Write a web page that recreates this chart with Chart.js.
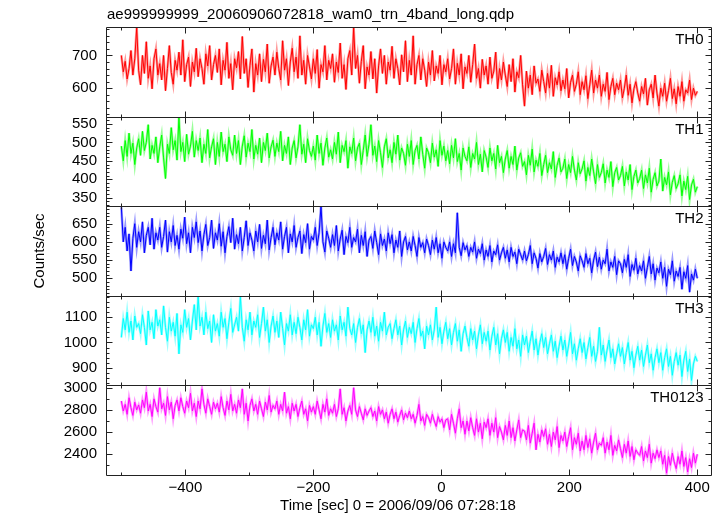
<!DOCTYPE html>
<html>
<head>
<meta charset="utf-8">
<script src="https://cdn.jsdelivr.net/npm/chart.js@4.4.0/dist/chart.umd.min.js"></script>
<style>
  html, body { margin: 0; padding: 0; background: #fff; }
</style>
</head>
<body>
<canvas id="lcChart" width="724" height="516"></canvas>
<script>
// WAM light curve, 4 energy bands + sum — qdp style stacked panels
(function () {
    'use strict';

    var plotTitle = 'ae999999999_20060906072818_wam0_trn_4band_long.qdp';
    var xTitle = 'Time [sec] 0 = 2006/09/06 07:28:18';
    var yTitle = 'Counts/sec';

    // time bins: first bin and bin width in seconds (one row = 30 s)
    var timeStart = -500;
    var timeStep = 3;

    var th0 = [
        700, 650, 682, 628, 660, 715, 640, 690, 785, 655,
        610, 700, 645, 742, 630, 668, 598, 690, 720, 640,
        675, 625, 700, 592, 660, 730, 648, 612, 685, 655,
        710, 640, 748, 620, 672, 695, 605, 680, 650, 722,
        635, 690, 660, 612, 705, 668, 730, 625, 672, 700,
        648, 720, 610, 685, 655, 740, 630, 675, 595, 690,
        662, 712, 628, 758, 645, 690, 602, 670, 720, 588,
        675, 640, 705, 620, 688, 650, 735, 615, 668, 695,
        640, 710, 660, 625, 745, 655, 690, 608, 680, 722,
        650, 695, 630, 760, 640, 685, 612, 700, 665, 628,
        690, 645, 718, 600, 672, 650, 730, 625, 685, 660,
        705, 618, 680, 648, 738, 630, 672, 596, 690, 715,
        640, 785, 660, 700, 615, 682, 730, 598, 665, 640,
        712, 628, 690, 585, 668, 720, 645, 700, 612, 680,
        655, 728, 630, 690, 660, 610, 702, 650, 745, 620,
        685, 640, 760, 612, 672, 700, 625, 690, 655, 605,
        680, 640, 715, 622, 668, 645, 700, 610, 672, 650,
        690, 628, 660, 720, 612, 676, 640, 705, 598, 665,
        645, 700, 618, 672, 735, 630, 660, 600, 688, 640,
        668, 612, 695, 630, 652, 710, 598, 660, 625, 680,
        640, 605, 672, 620, 690, 588, 650, 632, 700, 610,
        545, 652, 600, 640, 580, 668, 615, 628, 590, 655,
        620, 585, 645, 600, 670, 575, 632, 610, 650, 592,
        625, 598, 660, 570, 618, 640, 590, 612, 650, 580,
        620, 595, 638, 568, 610, 655, 585, 625, 600, 640,
        575, 612, 590, 648, 565, 605, 630, 580, 615, 595,
        625, 570, 600, 640, 578, 612, 555, 598, 620, 585,
        560, 605, 582, 630, 548, 595, 612, 570, 640, 585,
        545, 600, 575, 615, 560, 592, 630, 568, 598, 552,
        605, 575, 620, 560, 595, 585, 625, 565, 600, 578,
        590
    ];
    var th1 = [
        490, 450, 505, 462, 525, 470, 498, 440, 485, 510,
        465, 530, 478, 500, 548, 455, 492, 470, 515, 445,
        488, 520, 458, 402, 495, 470, 540, 480, 505, 452,
        568, 475, 500, 448, 522, 468, 490, 530, 460, 505,
        478, 512, 445, 495, 470, 535, 458, 488, 510, 440,
        500, 462, 528, 475, 495, 448, 515, 480, 465, 520,
        470, 505, 440, 490, 518, 460, 498, 475, 535, 455,
        492, 468, 512, 445, 500, 478, 525, 458, 488, 506,
        462, 498, 475, 530, 450, 492, 470, 515, 440, 485,
        505, 458, 488, 548, 468, 495, 445, 510, 478, 462,
        490, 452, 520, 470, 498, 438, 485, 512, 460, 480,
        455, 500, 468, 528, 445, 492, 475, 505, 430, 488,
        470, 512, 450, 485, 498, 440, 478, 520, 462, 495,
        548, 465, 490, 448, 505, 472, 432, 488, 510, 458,
        480, 445, 500, 468, 520, 452, 485, 470, 438, 495,
        462, 505, 440, 478, 492, 455, 515, 468, 430, 485,
        472, 445, 498, 460, 480, 435, 505, 465, 490, 450,
        478, 442, 492, 458, 510, 448, 470, 425, 485, 462,
        450, 488, 432, 470, 455, 500, 440, 468, 420, 478,
        460, 432, 485, 450, 470, 428, 492, 445, 462, 418,
        455, 478, 430, 462, 440, 490, 425, 458, 472, 435,
        448, 412, 465, 438, 482, 420, 452, 435, 470, 410,
        440, 465, 418, 445, 428, 475, 405, 438, 458, 420,
        430, 455, 402, 440, 418, 462, 425, 398, 445, 415,
        428, 450, 395, 432, 410, 455, 420, 388, 440, 405,
        418, 442, 390, 425, 405, 448, 380, 418, 432, 398,
        410, 435, 382, 420, 398, 440, 372, 408, 425, 390,
        402, 425, 375, 412, 390, 430, 365, 400, 418, 382,
        395, 455, 368, 405, 385, 420, 358, 392, 410, 375,
        388, 412, 355, 395, 372, 408, 345, 385, 400, 365,
        380
    ];
    var th2 = [
        695, 600, 640, 575, 622, 520, 610, 650, 585, 628,
        600, 655, 570, 618, 640, 592, 665, 580, 625, 605,
        640, 585, 615, 660, 572, 628, 600, 645, 590, 618,
        580, 635, 610, 668, 595, 625, 570, 640, 612, 655,
        598, 630, 575, 620, 648, 590, 612, 660, 582, 625,
        605, 650, 588, 628, 570, 615, 642, 598, 665, 580,
        620, 595, 640, 575, 612, 658, 590, 625, 605, 575,
        630, 600, 648, 582, 618, 595, 660, 578, 612, 640,
        592, 625, 605, 655, 580, 615, 640, 570, 622, 600,
        645, 585, 612, 630, 568, 620, 598, 650, 580, 615,
        605, 640, 590, 625, 698, 600, 572, 630, 610, 585,
        620, 590, 645, 575, 608, 632, 565, 615, 598, 640,
        585, 612, 600, 635, 570, 618, 590, 628, 560, 605,
        615, 582, 630, 598, 565, 622, 590, 608, 575, 625,
        595, 620, 570, 605, 585, 630, 560, 600, 615, 578,
        600, 575, 615, 590, 560, 612, 585, 598, 570, 608,
        590, 565, 605, 580, 612, 570, 595, 555, 600, 585,
        575, 600, 560, 595, 570, 680, 585, 562, 598, 578,
        590, 560, 585, 572, 600, 555, 580, 568, 595, 550,
        578, 560, 590, 545, 575, 565, 592, 550, 570, 585,
        555, 578, 545, 585, 560, 572, 540, 580, 565, 550,
        575, 548, 565, 590, 540, 570, 555, 528, 568, 545,
        560, 582, 538, 565, 550, 575, 530, 558, 545, 570,
        540, 565, 525, 555, 580, 535, 560, 545, 520, 562,
        548, 530, 568, 540, 555, 515, 550, 572, 532, 558,
        525, 550, 540, 580, 520, 545, 530, 560, 510, 548,
        540, 515, 552, 530, 565, 505, 538, 522, 555, 512,
        535, 520, 548, 500, 530, 560, 512, 540, 495, 528,
        515, 545, 500, 530, 478, 525, 510, 548, 492, 520,
        505, 530, 470, 518, 500, 535, 462, 512, 495, 525,
        500
    ];
    var th3 = [
        1020, 1095, 1050, 1120, 1040, 1085, 1010, 1105, 1060, 1075,
        1035, 1110, 1060, 990, 1125, 1050, 1080, 1015, 1130, 1065,
        1090, 1030, 1145, 1060, 1005, 1100, 1045, 1080, 1025, 1115,
        955, 1070, 1040, 1130, 1060, 1095, 1010, 1085, 1150, 1050,
        1180, 1065, 1100, 1030, 1120, 1055, 1085, 1000, 1110, 1045,
        1075, 1025, 1120, 1060, 1095, 1015, 1080, 1135, 1040, 1070,
        1100, 1045, 1180, 1060, 1005, 1090, 1050, 1120, 1030, 1085,
        1060, 1110, 1020, 1075, 1140, 1045, 1090, 1000, 1065, 1105,
        1040, 1085, 1020, 1120, 1055, 990, 1075, 1045, 1110, 1030,
        1080, 1035, 1100, 1060, 1010, 1090, 1050, 1130, 1025, 1070,
        1055, 1100, 1030, 1080, 985, 1065, 1115, 1040, 1075, 1020,
        1090, 1045, 1070, 1010, 1105, 1050, 1080, 1025, 1140, 1055,
        1030, 1075, 1000, 1060, 1095, 1035, 1070, 960, 1050, 1085,
        1040, 1100, 1025, 1065, 1005, 1080, 1045, 1120, 1030, 1060,
        1075, 1015, 1055, 1090, 1030, 1065, 990, 1050, 1085, 1020,
        1060, 1035, 1080, 1000, 1055, 1095, 1025, 1045, 975, 1065,
        1030, 1070, 1010, 1050, 1140, 1020, 1060, 995, 1045, 1080,
        1015, 1055, 990, 1040, 1075, 1005, 1050, 965, 1035, 1065,
        1020, 985, 1055, 1010, 1045, 975, 1030, 1070, 995, 1040,
        1005, 1045, 970, 1025, 1060, 990, 1035, 955, 1015, 1050,
        1000, 1040, 965, 1020, 985, 1055, 975, 1010, 945, 1030,
        990, 1025, 960, 1005, 1045, 970, 1015, 950, 1000, 1035,
        980, 1020, 955, 995, 1030, 965, 1005, 940, 985, 1025,
        970, 1010, 945, 990, 1040, 955, 995, 930, 975, 1015,
        960, 1000, 935, 980, 1020, 945, 985, 925, 965, 1060,
        950, 990, 925, 970, 1010, 940, 975, 915, 955, 995,
        945, 980, 915, 960, 1000, 930, 965, 900, 950, 985,
        930, 970, 905, 950, 990, 920, 955, 890, 940, 975,
        920, 960, 890, 940, 975, 905, 945, 870, 925, 960,
        910, 950, 865, 930, 965, 885, 935, 850, 915, 945,
        925
    ];
    var th0123 = [
        2880, 2790, 2850, 2760, 2910, 2820, 2750, 2870, 2800, 2845,
        2770, 2890, 2820, 2960, 2790, 2850, 2740, 2900, 2830, 2780,
        3000, 2810, 2860, 2750, 2920, 2800, 2870, 2720, 2840, 2890,
        2790, 2910, 2830, 2770, 2880, 2820, 2950, 2790, 2860, 2740,
        2880, 2810, 2990, 2850, 2770, 2900, 2830, 2760, 2870, 2810,
        2860, 2780, 2920, 2820, 2750, 2880, 2800, 2940, 2790, 2850,
        2770, 2890, 2820, 2990, 2760, 2860, 2700, 2840, 2900, 2790,
        2850, 2760, 2880, 2810, 2740, 2870, 2800, 2930, 2780, 2840,
        2810, 2880, 2760, 2850, 2790, 2960, 2770, 2830, 2720, 2860,
        2790, 2850, 2740, 2820, 2880, 2760, 2810, 2700, 2840, 2780,
        2830, 2760, 2880, 2800, 2720, 2850, 2780, 2900, 2750, 2810,
        2770, 2850, 2740, 2810, 2990, 2760, 2820, 2700, 2790, 2840,
        2760, 3000, 2800, 2740, 2830, 2770, 2710, 2810, 2750, 2790,
        2820, 2740, 2790, 2700, 2830, 2760, 2800, 2720, 2780, 2680,
        2760, 2810, 2720, 2780, 2690, 2750, 2800, 2710, 2770, 2730,
        2790, 2720, 2760, 2680, 2750, 2850, 2700, 2740, 2660, 2760,
        2730, 2680, 2760, 2700, 2650, 2740, 2690, 2720, 2640, 2710,
        2720, 2620, 2760, 2680, 2590, 2720, 2810, 2640, 2700, 2580,
        2700, 2610, 2730, 2640, 2570, 2720, 2600, 2680, 2540, 2690,
        2640, 2720, 2570, 2680, 2600, 2730, 2550, 2650, 2600, 2530,
        2660, 2570, 2700, 2550, 2640, 2520, 2620, 2710, 2550, 2620,
        2610, 2530, 2660, 2500, 2590, 2680, 2440, 2580, 2510, 2620,
        2560, 2630, 2490, 2580, 2470, 2600, 2530, 2650, 2460, 2570,
        2520, 2600, 2470, 2560, 2640, 2440, 2550, 2490, 2590, 2430,
        2520, 2440, 2570, 2460, 2540, 2410, 2510, 2590, 2440, 2500,
        2480, 2550, 2410, 2510, 2440, 2570, 2390, 2480, 2430, 2530,
        2450, 2370, 2490, 2410, 2520, 2380, 2470, 2350, 2440, 2410,
        2390, 2470, 2340, 2430, 2370, 2490, 2320, 2410, 2360, 2440,
        2370, 2430, 2310, 2390, 2230, 2380, 2300, 2410, 2330, 2270,
        2380, 2310, 2430, 2290, 2370, 2240, 2360, 2280, 2410, 2320,
        2400
    ];

    var bandNames = ['TH0', 'TH1', 'TH2', 'TH3', 'TH0123'];
    var bandSeries = [th0, th1, th2, th3, th0123];

    // axis ranges and tick steps (minor / labelled)
    var xMin = -524, xMax = 423, xMinor = 100, xMajor = 200;
    var yMins = [513, 327, 452, 830, 2213];
    var yMaxs = [787, 570, 698, 1185, 3021];
    var yMinor = [20, 10, 10, 20, 100];
    var yMajor = [100, 50, 50, 100, 200];

    var lineColors = ['#ff0000', '#00ff00', '#0000ff', '#00ffff', '#ff00ff'];
    var haloColors = ['rgba(255,0,0,0.4)', 'rgba(0,255,0,0.4)', 'rgba(0,0,255,0.4)',
                      'rgba(0,255,255,0.4)', 'rgba(255,0,255,0.4)'];

    var FONT = '"Liberation Sans", Arial, Helvetica, sans-serif';
    var axisIds = bandNames.map(function (n, i) { return 'y' + i; });

    function minus(v) {
        return v < 0 ? '\u2212' + Math.abs(v) : String(v);
    }

    function toPoints(values) {
        return values.map(function (v, i) {
            return { x: timeStart + i * timeStep, y: v };
        });
    }

    // ticks on every multiple of step inside the axis range
    function stepTicks(step) {
        return function (scale) {
            var ticks = [];
            for (var v = Math.ceil(scale.min / step) * step; v <= scale.max; v += step) {
                ticks.push({ value: v });
            }
            scale.ticks = ticks;
        };
    }

    // ── Datasets: faint wide trace under a thin bright trace ──────
    var datasets = [];
    bandSeries.forEach(function (values, i) {
        var pts = toPoints(values);
        datasets.push({
            data: pts, yAxisID: axisIds[i], xAxisID: 'x',
            borderColor: haloColors[i], borderWidth: 2.5, pointRadius: 0, tension: 0
        });
        datasets.push({
            data: pts, yAxisID: axisIds[i], xAxisID: 'x',
            borderColor: lineColors[i], borderWidth: 1, pointRadius: 0, tension: 0
        });
    });

    // ── Scales: one stacked y axis per band (last defined sits on top) ──
    var scales = {
        x: {
            type: 'linear', position: 'bottom', min: xMin, max: xMax,
            grid: { display: false, drawTicks: false }, border: { display: false },
            afterBuildTicks: stepTicks(xMinor),
            ticks: {
                autoSkip: false, maxRotation: 0, minRotation: 0,
                color: '#000', padding: 4, font: { family: FONT, size: 15 },
                callback: function (v) { return v % xMajor === 0 ? minus(v) : ''; }
            },
            afterFit: function (s) { s.height = 41; }
        }
    };
    for (var k = bandNames.length - 1; k >= 0; k--) {
        (function (i) {
            scales[axisIds[i]] = {
                type: 'linear', position: 'left', stack: 'bands', stackWeight: 1,
                min: yMins[i], max: yMaxs[i],
                grid: { display: false, drawTicks: false }, border: { display: false },
                afterBuildTicks: stepTicks(yMinor[i]),
                ticks: {
                    autoSkip: false, color: '#000', padding: 9,
                    font: { family: FONT, size: 15 },
                    callback: function (v) { return v % yMajor[i] === 0 ? String(v) : ''; }
                },
                afterFit: function (s) { s.width = 106; }
            };
        })(k);
    }

    // ── qdp frame: boxed panels, inward ticks, labels ─────────────
    var qdpFrame = {
        id: 'qdpFrame',
        beforeDatasetDraw: function (chart, args) {
            var ys = chart.scales[chart.data.datasets[args.index].yAxisID];
            var area = chart.chartArea;
            chart.ctx.save();
            chart.ctx.beginPath();
            chart.ctx.rect(area.left, ys.top, area.right - area.left, ys.bottom - ys.top);
            chart.ctx.clip();
        },
        afterDatasetDraw: function (chart) {
            chart.ctx.restore();
        },
        afterDraw: function (chart) {
            var ctx = chart.ctx, area = chart.chartArea, xs = chart.scales.x;
            var left = Math.round(area.left) + 0.5, right = Math.round(area.right) - 0.5;
            ctx.save();
            ctx.strokeStyle = '#222';
            ctx.lineWidth = 1;
            axisIds.forEach(function (id, p) {
                var ys = chart.scales[id];
                var top = Math.round(ys.top) + 0.5, bottom = Math.round(ys.bottom) + 0.5;
                ctx.beginPath();
                ctx.rect(left, top, right - left, bottom - top);
                xs.ticks.forEach(function (t) {
                    var px = Math.round(xs.getPixelForValue(t.value)) + 0.5;
                    var len = t.value % xMajor === 0 ? 6 : 3;
                    ctx.moveTo(px, top); ctx.lineTo(px, top + len);
                    ctx.moveTo(px, bottom); ctx.lineTo(px, bottom - len);
                });
                ys.ticks.forEach(function (t) {
                    var py = Math.round(ys.getPixelForValue(t.value)) + 0.5;
                    var len = t.value % yMajor[p] === 0 ? 6 : 3;
                    ctx.moveTo(left, py); ctx.lineTo(left + len, py);
                    ctx.moveTo(right, py); ctx.lineTo(right - len, py);
                });
                ctx.stroke();

                ctx.fillStyle = '#000';
                ctx.font = '15px ' + FONT;
                ctx.textAlign = 'right';
                ctx.textBaseline = 'middle';
                ctx.fillText(bandNames[p], right - 8, top + 12);
            });

            ctx.fillStyle = '#000';
            ctx.font = '15px ' + FONT;
            ctx.textBaseline = 'middle';
            ctx.textAlign = 'left';
            ctx.fillText(plotTitle, 107, 15);
            ctx.textAlign = 'center';
            ctx.fillText(xTitle, 398, 506);
            ctx.translate(40, (area.top + area.bottom) / 2);
            ctx.rotate(-Math.PI / 2);
            ctx.fillText(yTitle, 0, 0);
            ctx.restore();
        }
    };

    new Chart(document.getElementById('lcChart').getContext('2d'), {
        type: 'line',
        data: { datasets: datasets },
        options: {
            responsive: false,
            animation: false,
            devicePixelRatio: 1,
            layout: { padding: { top: 27, right: 12, left: 0, bottom: 0 } },
            plugins: {
                legend: { display: false },
                tooltip: { enabled: false },
                title: { display: false }
            },
            scales: scales
        },
        plugins: [qdpFrame]
    });
})();
</script>
</body>
</html>
